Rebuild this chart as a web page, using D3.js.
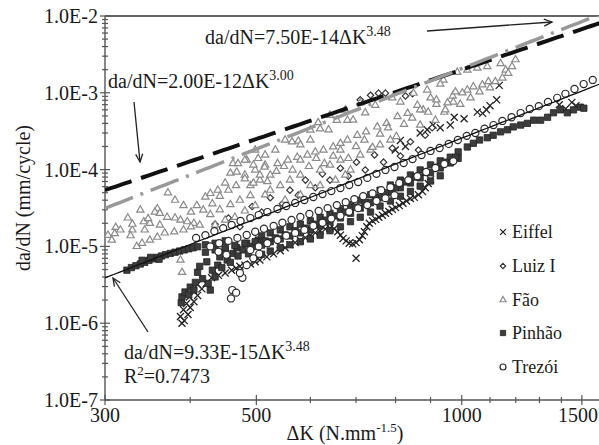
<!DOCTYPE html>
<html lang="en">
<head>
<meta charset="UTF-8">
<script src="https://d3js.org/d3.v7.min.js"></script>
<style>
  body { margin: 0; background: #fff; }
  svg text { font-family: "Liberation Serif", "Times New Roman", serif; fill: #1a1a1a; }
  .axis { stroke: #555; stroke-width: 1.4; fill: none; }
  .tick { stroke: #555; stroke-width: 1.2; }
  .arrow { stroke: #222; stroke-width: 1.3; fill: none; }
</style>
</head>
<body>
<svg id="chart" width="599" height="445" font-family="Liberation Serif, Times New Roman, serif"></svg>
<script>
// ---- data: [ΔK, da/dN] ----
const eiffel = [
  [389,1.0e-6],[392,1.08e-6],[387,1.22e-6],[397,1.3e-6],[391,1.5e-6],[400,1.6e-6],[395,1.8e-6],[405,1.9e-6],
  [399,2.2e-6],[410,2.3e-6],[404,2.7e-6],[416,2.8e-6],[410,3.2e-6],[422,3.3e-6],
  [430,3.9e-6],[440,4.2e-6],[450,4.5e-6],[460,4.9e-6],[467,5.2e-6],[473,5.5e-6],[481,5.7e-6],[490,5.9e-6],
  [498,6.3e-6],[506,6.65e-6],[518,7.3e-6],[530,8.0e-6],[542,8.8e-6],[551,9.6e-6],[560,1.05e-5],[570,1.12e-5],
  [580,1.2e-5],[590,1.3e-5],[600,1.4e-5],[610,1.5e-5],[620,1.6e-5],[631,1.68e-5],[641,1.72e-5],[650,1.7e-5],
  [658,1.55e-5],[664,1.4e-5],[670,1.27e-5],[677,1.18e-5],[684,1.1e-5],[692,1.08e-5],[700,1.12e-5],[708,1.22e-5],
  [715,1.38e-5],[720,1.55e-5],[726,1.8e-5],[732,2.0e-5],[740,2.15e-5],[748,2.25e-5],[756,2.4e-5],[765,2.55e-5],
  [773,2.7e-5],[782,2.85e-5],[791,3.05e-5],[800,3.2e-5],[810,3.4e-5],[820,3.65e-5],[830,3.9e-5],[841,4.2e-5],
  [852,4.35e-5],[864,4.7e-5],[876,5.2e-5],[884,5.8e-5],[893,6.6e-5],[900,7.4e-5],
  [700,7.0e-6],
  [869,3.0e-4],[890,3.3e-4],[908,3.8e-4],[930,3.5e-4],[962,3.8e-4],[975,4.8e-4],[1008,4.6e-4],[1054,5.6e-4],
  [1073,5.4e-4],[1087,6.0e-4],[1100,6.8e-4],[1125,8.1e-4],[1135,1.25e-3],[813,2.4e-4],[827,2.0e-4],[799,1.8e-4],
  [1390,7.0e-4],[1420,6.2e-4],[1450,7.5e-4],[1470,6.8e-4]
];
const luiz = [
  [435,1.95e-5],[455,2.34e-5],[473,1.8e-5],[493,3.3e-5],[509,2.8e-5],[524,4.3e-5],[546,3.6e-5],[560,5.4e-5],
  [576,4.65e-5],[590,7.3e-5],[610,5.8e-5],[625,8.8e-5],[641,7.3e-5],[664,1.04e-4],[682,8.2e-5],[701,1.25e-4],
  [722,9.9e-5],[745,1.55e-4],[768,1.25e-4],[791,1.9e-4],[813,1.5e-4],[841,2.3e-4],[864,1.8e-4],[884,2.8e-4],[905,3.5e-4],
  [710,8.1e-4],[735,9.3e-4],[755,9.9e-4],[773,9.9e-4],[827,9.1e-4],[847,9.7e-4]
];
const fao = [
  [303,1.4e-5],[311,1.77e-5],[316,1.64e-5],[324,2.35e-5],[329,1.64e-5],[338,2.98e-5],[342,2.1e-5],[358,3.1e-5],
  [355,2.8e-5],[361,2.7e-5],[371,5.0e-5],[370,2.4e-5],[380,2.35e-5],[387,2.2e-5],[396,2.1e-5],[405,2.0e-5],[413,1.9e-5],
  [334,1.0e-5],[340,1.1e-5],[349,1.21e-5],[358,1.32e-5],[367,1.5e-5],[379,1.55e-5],[391,1.64e-5],[401,1.8e-5],
  [307,1.21e-5],[310,1.47e-5],[327,1.38e-5],[343,1.64e-5],[349,2.0e-5],[361,1.9e-5],[329,1.95e-5],[347,2.3e-5],
  [387,6.65e-6],[389,4.6e-6],
  [421,4.4e-5],[428,4.9e-5],[439,5.4e-5],[450,6.7e-5],[458,9.0e-5],[462,1.2e-4],[470,1.2e-4],[468,9.3e-5],
  [428,2.6e-5],[442,3.0e-5],[458,3.5e-5],[473,4.0e-5],[490,4.6e-5],[435,1.9e-5],[450,2.2e-5],[465,2.4e-5],[481,2.9e-5],[498,3.4e-5],
  [481,8.5e-5],[490,6.2e-5],[498,9.9e-5],[506,7.3e-5],[515,1.15e-4],[524,8.5e-5],
  [484,1.33e-4],[495,1.15e-4],[503,1.4e-4],
  [514,1.08e-4],[537,1.2e-4],[556,1.33e-4],[574,1.45e-4],[594,1.55e-4],[610,1.7e-4],[627,1.8e-4],[648,1.98e-4],
  [664,2.2e-4],[680,2.43e-4],[703,2.8e-4],[724,3.1e-4],[752,3.6e-4],[776,4.0e-4],[805,4.9e-4],[833,5.4e-4],[861,6.9e-4],[878,6.0e-4],
  [551,2.43e-4],[564,2.3e-4],[576,2.35e-4],[600,2.43e-4],[620,3.4e-4],[638,3.3e-4],[656,4.4e-4],[680,4.4e-4],
  [710,7.4e-4],[791,8.6e-4],[813,7.6e-4],[850,9.9e-4],
  [524,5.4e-5],[542,6.2e-5],[560,7.3e-5],[580,8.5e-5],[600,6.2e-5],[620,9.9e-5],[641,1.15e-4],[664,1.33e-4],
  [687,9.9e-5],[710,1.55e-4],[735,1.8e-4],[759,2.1e-4],[786,2.43e-4],[580,4.7e-5],[551,4.0e-5],[620,6.2e-5],
  [653,7.3e-5],[675,8.5e-5],[515,4.7e-5],
  [380,4.0e-5],[391,3.4e-5],[401,2.8e-5],[409,3.4e-5],[418,2.98e-5],[431,3.6e-5],[442,4.5e-5],[455,5.4e-5],
  [467,6.2e-5],[481,7.6e-5],[495,6.7e-5],[506,8.5e-5],[519,7.0e-5],[535,9.5e-5],[549,1.1e-4],[565,9.9e-5],
  [580,1.33e-4],[597,1.1e-4],[612,1.4e-4],[629,1.2e-4],[648,1.5e-4],[664,1.8e-4],[682,1.4e-4],[700,2.0e-4],
  [720,2.43e-4],[740,1.95e-4],[759,2.9e-4],[780,3.5e-4],[802,2.7e-4],[823,3.9e-4],[846,4.7e-4],[869,3.8e-4],
  [893,5.6e-4],[918,7.1e-4],[943,5.6e-4],[970,9.1e-4],[995,7.1e-4],[1030,8.6e-4],[1062,1.03e-3],[1100,1.16e-3],
  [1160,1.98e-3],[1185,2.2e-3],[580,2.1e-4],[600,3.28e-4],[616,4.1e-4],[641,5.1e-4],[675,5.97e-4],[693,4.42e-4],
  [722,5.5e-4],[747,6.9e-4],[515,1.55e-4],[533,1.8e-4],[498,1.8e-4],[481,1.33e-4],
  [1199,2.7e-3],[1170,1.8e-3],[1140,2.4e-3],[1147,1.56e-3],[1120,1.4e-3],[1090,2.2e-3],[1094,1.4e-3],[1072,1.27e-3],
  [1054,2.1e-3],[1040,1.2e-3],[1019,1.98e-3],[1019,1.09e-3],[1002,1.0e-3],[985,1.85e-3],[979,1.03e-3],[972,7.6e-4],
  [953,7.4e-4],[946,6.0e-4],[940,1.47e-3],[930,1.3e-3],[918,8.1e-4],[915,4.4e-4],[900,8.6e-4],[890,1.09e-3],[869,6.0e-4]
];
const pinhao = [
  [323,4.9e-6],[328,5.3e-6],[333,5.6e-6],[338,5.9e-6],[343,6.2e-6],[348,6.6e-6],[353,6.9e-6],[358,7.2e-6],
  [363,7.5e-6],[368,7.8e-6],[374,8.1e-6],[380,8.4e-6],[386,8.7e-6],[392,9.0e-6],[398,9.3e-6],[404,9.6e-6],
  [410,9.9e-6],[340,6.6e-6],[350,7.2e-6],[360,6.8e-6],
  [388,1.85e-6],[389,2.2e-6],[393,2.55e-6],[400,2.95e-6],[407,3.4e-6],[410,4.6e-6],[413,5.5e-6],[423,6.3e-6],
  [428,2.7e-6],[425,3.3e-6],[435,4.0e-6],[439,5.7e-6],[442,7.3e-6],[453,6.65e-6],[450,9e-6],[462,8.1e-6],
  [468,9.6e-6],[478,9e-6],[484,1.1e-5],[495,1.0e-5],[503,1.21e-5],
  [398,2.35e-6],[405,2.7e-6],[417,3.8e-6],[431,4.9e-6],[445,5.3e-6],[458,6.2e-6],[470,7.5e-6],[487,8.0e-6],
  [421,8.4e-6],[421,1.05e-5],[435,9.0e-6],[435,1.1e-5],[450,9.6e-6],[450,1.18e-5],[465,1.03e-5],[481,1.1e-5],[498,1.15e-5],
  [509,1.04e-5],[509,1.37e-5],[524,1.15e-5],[524,1.5e-5],[542,1.25e-5],[542,1.64e-5],[560,1.37e-5],[560,1.8e-5],
  [580,1.5e-5],[580,1.95e-5],[600,1.64e-5],[600,2.15e-5],[620,1.85e-5],[620,2.4e-5],[641,2.1e-5],[641,2.7e-5],
  [664,2.35e-5],[664,3.1e-5],[687,2.7e-5],[687,3.5e-5],[710,3.15e-5],[710,4.0e-5],[735,3.7e-5],[735,4.7e-5],
  [759,4.3e-5],[759,5.4e-5],[786,5.0e-5],[786,6.3e-5],[813,5.8e-5],[813,7.3e-5],[841,6.7e-5],[841,8.5e-5],
  [869,7.8e-5],[869,9.9e-5],[900,9.1e-5],[900,1.15e-4],[930,1.05e-4],[930,1.3e-4],[962,1.22e-4],[962,1.45e-4],
  [988,1.4e-4],[988,1.7e-4],
  [509,7.9e-6],[524,8.7e-6],[542,9.6e-6],[560,1.05e-5],[580,1.15e-5],[600,1.25e-5],[620,1.4e-5],[641,1.6e-5],
  [664,1.8e-5],[687,2.1e-5],[710,2.4e-5],[735,2.8e-5],[759,3.35e-5],[786,3.9e-5],[813,4.5e-5],[841,5.2e-5],
  [869,6.1e-5],[900,7.1e-5],[930,8.3e-5],
  [515,1.18e-5],[533,1.29e-5],[551,1.41e-5],[570,1.6e-5],[590,1.73e-5],[610,1.95e-5],[631,2.2e-5],[653,2.5e-5],
  [675,2.8e-5],[698,3.25e-5],[722,3.75e-5],[747,4.3e-5],[773,5.0e-5],[799,5.8e-5],[827,6.9e-5],[855,8.0e-5],
  [884,9.2e-5],[915,1.07e-4],[946,1.25e-4],[979,1.45e-4],
  [1019,1.97e-4],[1040,2.2e-4],[1062,2.43e-4],[1090,2.6e-4],[1112,2.8e-4],[1140,3.1e-4],[1167,3.3e-4],[1190,3.6e-4],
  [1220,3.8e-4],[1248,4.0e-4],[1275,4.4e-4],[1305,4.4e-4],[1336,4.8e-4],[1363,5.5e-4],[1395,6.0e-4],[1428,5.5e-4],
  [1458,6.0e-4],[1493,6.5e-4],[1510,6.3e-4]
];
const trezoi = [
  [408,1.29e-5],[421,1.4e-5],[434,1.58e-5],[447,1.73e-5],[460,1.9e-5],[474,2.14e-5],[490,2.34e-5],[504,2.56e-5],
  [519,2.8e-5],[537,3.07e-5],[553,3.36e-5],[570,3.68e-5],[588,4.02e-5],[606,4.4e-5],[625,4.8e-5],[644,5.25e-5],
  [664,5.75e-5],[684,6.3e-5],[705,6.9e-5],[727,7.8e-5],[750,8.8e-5],[773,9.9e-5],[797,1.08e-4],[822,1.22e-4],
  [847,1.37e-4],[873,1.55e-4],[900,1.75e-4],[928,1.91e-4],[957,2.16e-4],[987,2.43e-4],[1017,2.75e-4],[1047,3.0e-4],
  [1080,3.4e-4],[1113,3.8e-4],[1147,4.3e-4],[1183,4.8e-4],[1220,5.45e-4],[1258,6.15e-4],[1297,6.7e-4],[1338,7.6e-4],
  [1380,8.6e-4],[1419,9.7e-4],[1463,1.12e-3],[1509,1.3e-3],[1556,1.47e-3],
  [428,1.0e-5],[441,1.1e-5],[455,1.18e-5],[469,1.29e-5],[484,1.41e-5],[498,1.55e-5],[513,1.7e-5],[530,1.85e-5],
  [546,2.03e-5],[563,2.21e-5],[580,2.42e-5],[598,2.64e-5],[617,2.89e-5],[636,3.15e-5],[656,3.45e-5],[676,3.77e-5],
  [696,4.12e-5],[717,4.5e-5],[740,4.9e-5],[762,5.4e-5],[786,5.9e-5],[810,6.7e-5],[835,7.3e-5],[861,8.2e-5],
  [887,9.3e-5],[915,1.05e-4],[943,1.18e-4],[972,1.29e-4],
  [490,9.0e-6],[504,1.0e-5],[519,1.1e-5],[537,1.21e-5],[553,1.38e-5],[570,1.5e-5],[588,1.64e-5],[606,1.86e-5],
  [625,2.03e-5],[644,2.3e-5],[664,2.5e-5],[684,2.82e-5],[705,3.15e-5],[727,3.45e-5],[750,3.9e-5],[773,4.25e-5],[797,4.65e-5],
  [461,2.7e-6],[459,2.1e-6],[467,2.5e-6],[477,3.9e-6],[473,4.5e-6],[484,5.7e-6],[495,7.0e-6],[440,8.5e-6],[452,7.8e-6],[505,8.0e-6]
];

const seriesNames = ["Eiffel", "Luiz I", "Fão", "Pinhão", "Trezói"];
const xMajor = [300, 500, 1000, 1500];
const xMinor = [400, 600, 700, 800, 900, 1100, 1200, 1300, 1400];
const yMajor = [1e-7, 1e-6, 1e-5, 1e-4, 1e-3, 1e-2];
const yLabels = ["1.0E-7", "1.0E-6", "1.0E-5", "1.0E-4", "1.0E-3", "1.0E-2"];
// trend lines: da/dN = C * ΔK^m
const fitC = [2.00e-12, 7.50e-14, 9.33e-15];
const fitM = [3.00, 3.48, 3.48];

const svg = d3.select("#chart");
const x = d3.scaleLog().domain([300, 1600]).range([105, 601]);
const y = d3.scaleLog().domain([1e-7, 1e-2]).range([400, 16]);

svg.append("defs").append("clipPath").attr("id", "plot")
   .append("rect").attr("x", 105).attr("y", 16).attr("width", 496).attr("height", 384);
svg.select("defs").append("marker")
   .attr("id", "head").attr("viewBox", "-10 -6 12 12").attr("markerWidth", 12).attr("markerHeight", 12)
   .attr("markerUnits", "userSpaceOnUse").attr("orient", "auto")
   .append("path").attr("d", "M-8,-3.5 L0,0 L-8,3.5").attr("stroke", "#222").attr("stroke-width", 1.3).attr("fill", "none");

//axes
svg.append("line").attr("class", "axis").attr("x1", 105).attr("x2", 105).attr("y1", 16).attr("y2", 400);
svg.append("line").attr("class", "axis").attr("x1", 105).attr("x2", 601).attr("y1", 400).attr("y2", 400);
svg.append("line").attr("x1", 105).attr("x2", 601).attr("y1", 16).attr("y2", 16)
   .attr("stroke", "#666").attr("stroke-width", 2);

xMajor.forEach(v => {
  svg.append("line").attr("class", "tick").attr("x1", x(v)).attr("x2", x(v)).attr("y1", 395).attr("y2", 405);
});
xMinor.forEach(v => {
  svg.append("line").attr("class", "tick").attr("x1", x(v)).attr("x2", x(v)).attr("y1", 397).attr("y2", 403);
});
// last label would run past the right edge, so it is right-aligned there
svg.selectAll("text.xlab").data(xMajor).join("text")
   .attr("class", "xlab").attr("x", (d, i) => i === xMajor.length - 1 ? 598 : x(d)).attr("y", 422)
   .attr("text-anchor", (d, i) => i === xMajor.length - 1 ? "end" : "middle")
   .attr("font-size", 20).text(d => d);

yMajor.forEach((v, i) => {
  svg.append("line").attr("class", "tick").attr("x1", 100).attr("x2", 110).attr("y1", y(v)).attr("y2", y(v));
  if (i < yMajor.length - 1) {
    for (let k = 2; k <= 9; k++) {
      svg.append("line").attr("class", "tick").attr("x1", 102).attr("x2", 108)
         .attr("y1", y(v * k)).attr("y2", y(v * k));
    }
  }
});
svg.selectAll("text.ylab").data(yMajor).join("text")
   .attr("class", "ylab").attr("x", 98).attr("y", d => y(d) + 7)
   .attr("text-anchor", "end").attr("font-size", 20).text((d, i) => yLabels[i]);

//axis titles
const xt = svg.append("text").attr("x", 345).attr("y", 440).attr("text-anchor", "middle").attr("font-size", 20);
xt.append("tspan").text("ΔK (N.mm");
xt.append("tspan").attr("font-size", 13).attr("dy", -8).text("-1.5");
xt.append("tspan").attr("dy", 8).text(")");
svg.append("text").attr("transform", "translate(30,198) rotate(-90)")
   .attr("text-anchor", "middle").attr("font-size", 20).text("da/dN (mm/cycle)");

//markers
const plot = svg.append("g").attr("clip-path", "url(#plot)");
const styles = [
  { data: eiffel, type: d3.symbolX, size: 34, fill: "none", stroke: "#222", sw: 1.3 },
  { data: luiz, type: d3.symbolDiamond2, size: 26, fill: "#fff", stroke: "#333", sw: 1.2 },
  { data: fao, type: d3.symbolTriangle2, size: 38, fill: "#fff", stroke: "#8a8a8a", sw: 1.2 },
  { data: pinhao, type: d3.symbolSquare, size: 40, fill: "#3c3c3c", stroke: "#222", sw: 0.8 },
  { data: trezoi, type: d3.symbolCircle, size: 40, fill: "#fff", stroke: "#2a2a2a", sw: 1.2 }
];
styles.forEach(s => {
  plot.append("g").selectAll("path").data(s.data).join("path")
      .attr("transform", d => `translate(${x(d[0])},${y(d[1])})`)
      .attr("d", d3.symbol(s.type, s.size))
      .attr("fill", s.fill).attr("stroke", s.stroke).attr("stroke-width", s.sw);
});

//trend lines
const kVals = d3.range(0, 101).map(i => 300 * Math.pow(1600 / 300, i / 100));
const line = d3.line().x(d => x(d[0])).y(d => y(d[1]));
const lineStyle = [
  { stroke: "#111", sw: 4, dash: "28,10" },
  { stroke: "#999", sw: 3.5, dash: "30,8,3,8" },
  { stroke: "#111", sw: 1.3, dash: null }
];
fitC.forEach((c, i) => {
  plot.append("path").datum(kVals.map(k => [k, c * Math.pow(k, fitM[i])]))
      .attr("d", line).attr("fill", "none")
      .attr("stroke", lineStyle[i].stroke).attr("stroke-width", lineStyle[i].sw)
      .attr("stroke-dasharray", lineStyle[i].dash);
});

//annotations
function eq(xp, yp, main, sup) {
  const t = svg.append("text").attr("x", xp).attr("y", yp).attr("font-size", 20);
  t.append("tspan").text(main);
  t.append("tspan").attr("font-size", 14).attr("dy", -8).text(sup);
  return t;
}
eq(205, 44, "da/dN=7.50E-14ΔK", "3.48");
eq(108, 88, "da/dN=2.00E-12ΔK", "3.00");
eq(124, 359, "da/dN=9.33E-15ΔK", "3.48");
const r2 = svg.append("text").attr("x", 124).attr("y", 383).attr("font-size", 20);
r2.append("tspan").text("R");
r2.append("tspan").attr("font-size", 13).attr("dy", -8).text("2");
r2.append("tspan").attr("dy", 8).text("=0.7473");

const arrows = [[427, 31, 552, 22], [134, 102, 140, 162], [148, 332, 113, 278]];
arrows.forEach(a => {
  svg.append("line").attr("class", "arrow").attr("x1", a[0]).attr("y1", a[1]).attr("x2", a[2]).attr("y2", a[3])
     .attr("marker-end", "url(#head)");
});

//legend
const legY = [232, 266, 300, 333, 367];
const leg = svg.append("g");
styles.forEach((s, i) => {
  leg.append("path").attr("transform", `translate(503,${legY[i]})`)
     .attr("d", d3.symbol(s.type, s.size * 0.7))
     .attr("fill", s.fill).attr("stroke", s.stroke).attr("stroke-width", s.sw);
  leg.append("text").attr("x", 512).attr("y", legY[i] + 6).attr("font-size", 18).text(seriesNames[i]);
});
</script>
</body>
</html>
